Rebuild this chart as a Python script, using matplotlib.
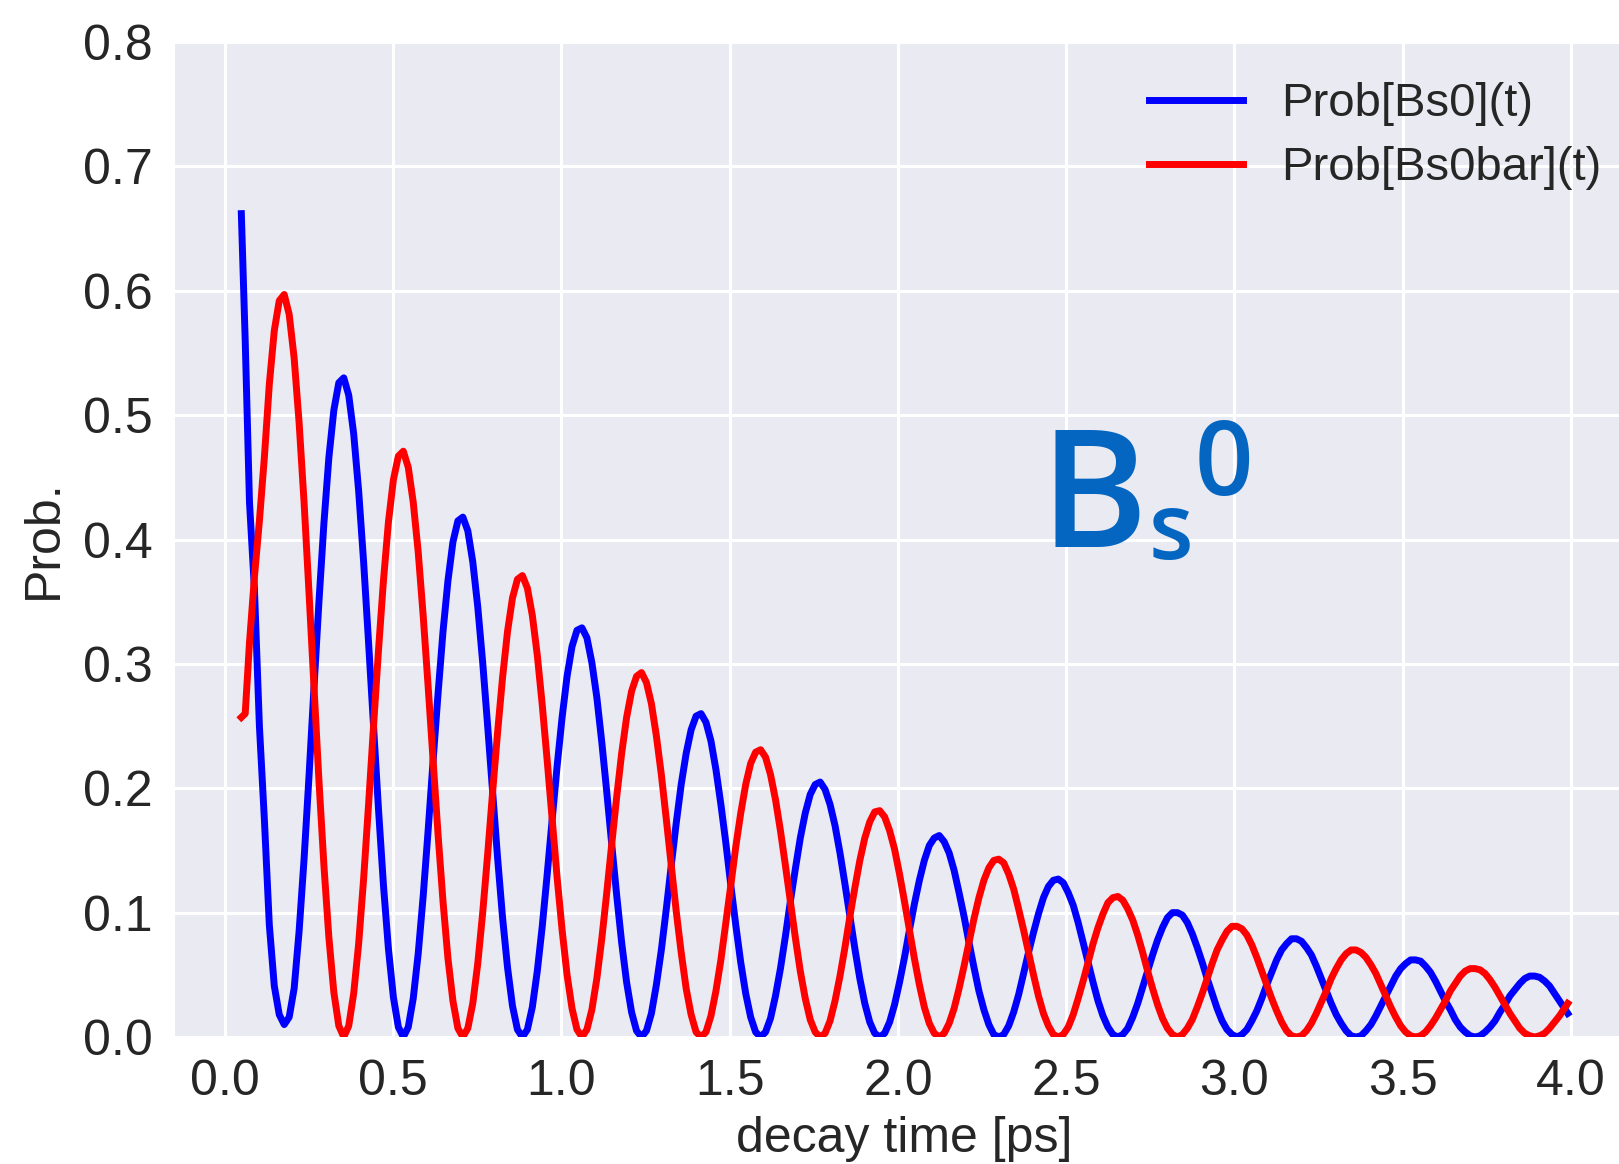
"""Probabilidad de oscilacion Bs0 / Bs0bar en funcion del tiempo de desintegracion."""
import numpy as np
import matplotlib

matplotlib.use("Agg")
import matplotlib.pyplot as plt
from matplotlib.ticker import MultipleLocator

# tiempos [ps]: dos puntos iniciales sueltos, luego una rejilla regular
# (paso = 1/24 del periodo de oscilacion) y el ultimo punto en 3.99 ps
start_times = [0.0495, 0.061]
grid_first, grid_last, grid_step = 5, 270, 0.0147417
end_times = [3.99]

# probabilidades, en unidades de 1e-3
prob_bs0_milli = [
    662, 560, 430, 360,
    250, 175, 90, 41, 18, 10, 16, 39, 85, 143,
    210, 281, 350, 413, 466, 504, 526, 530, 516, 485,
    439, 382, 317, 250, 183, 122, 71, 32, 8, 0,
    8, 31, 67, 113, 166, 222, 276, 326, 367, 398,
    415, 418, 407, 382, 346, 301, 250, 197, 144, 96,
    56, 25, 6, 0, 6, 24, 53, 89, 131, 175,
    218, 257, 290, 314, 327, 329, 321, 301, 273, 237,
    197, 155, 114, 76, 44, 20, 5, 0, 5, 19,
    42, 70, 103, 138, 172, 203, 228, 247, 258, 260,
    253, 238, 215, 187, 156, 122, 90, 60, 35, 16,
    4, 0, 4, 15, 33, 55, 81, 109, 135, 160,
    180, 195, 203, 205, 199, 187, 170, 148, 123, 97,
    71, 47, 27, 12, 3, 0, 3, 12, 26, 44,
    64, 86, 107, 126, 142, 154, 160, 162, 157, 148,
    134, 116, 97, 76, 56, 37, 22, 10, 2, 0,
    2, 9, 20, 34, 51, 68, 84, 99, 112, 121,
    126, 127, 124, 116, 106, 92, 76, 60, 44, 29,
    17, 8, 2, 0, 2, 7, 16, 27, 40, 53,
    66, 78, 88, 96, 100, 100, 98, 92, 83, 72,
    60, 47, 35, 23, 13, 6, 2, 0, 2, 6,
    13, 21, 31, 42, 52, 62, 70, 75, 79, 79,
    77, 72, 66, 57, 47, 37, 27, 18, 11, 5,
    1, 0, 1, 5, 10, 17, 25, 33, 41, 49,
    55, 59, 62, 62, 61, 57, 52, 45, 37, 29,
    22, 14, 8, 4, 1, 0, 1, 4, 8, 13,
    20, 26, 33, 38, 43, 47, 49, 49, 48, 45,
    41, 35, 29, 23, 19,
]
prob_bs0bar_milli = [
    257, 260, 317, 370,
    415, 466, 525, 568, 592, 597, 581, 546, 494, 430,
    357, 281, 206, 138, 80, 36, 9, 0, 9, 35,
    75, 127, 187, 250, 311, 367, 414, 448, 467, 471,
    458, 430, 390, 339, 282, 222, 163, 109, 63, 29,
    7, 0, 7, 27, 59, 100, 147, 197, 245, 289,
    326, 353, 368, 371, 361, 339, 307, 267, 222, 175,
    128, 86, 50, 23, 6, 0, 6, 22, 47, 79,
    116, 155, 193, 228, 257, 278, 290, 293, 285, 268,
    242, 211, 175, 138, 101, 68, 39, 18, 4, 0,
    4, 17, 37, 62, 92, 122, 153, 180, 203, 220,
    229, 231, 225, 211, 191, 166, 138, 109, 80, 53,
    31, 14, 4, 0, 3, 13, 29, 49, 72, 97,
    120, 142, 160, 173, 181, 182, 177, 166, 151, 131,
    109, 86, 63, 42, 24, 11, 3, 0, 3, 11,
    23, 39, 57, 76, 95, 112, 126, 136, 142, 143,
    140, 131, 119, 103, 86, 68, 50, 33, 19, 9,
    2, 0, 2, 8, 18, 31, 45, 60, 75, 88,
    99, 108, 112, 113, 110, 103, 94, 82, 68, 53,
    39, 26, 15, 7, 2, 0, 2, 7, 14, 24,
    35, 47, 59, 70, 78, 85, 89, 89, 87, 82,
    74, 64, 53, 42, 31, 21, 12, 5, 1, 0,
    1, 5, 11, 19, 28, 37, 47, 55, 62, 67,
    70, 70, 68, 64, 58, 51, 42, 33, 24, 16,
    9, 4, 1, 0, 1, 4, 9, 15, 22, 29,
    37, 43, 49, 53, 55, 55, 54, 51, 46, 40,
    33, 26, 19, 13, 7, 3, 1, 0, 1, 3,
    7, 12, 17, 23, 27,
]

TEXT = "#262626"
LABEL_BLUE = "#0566C2"


def build_times() -> np.ndarray:
    grid = np.arange(grid_first, grid_last + 1) * grid_step
    return np.concatenate([start_times, grid, end_times])


def main() -> None:
    decay_time = build_times()
    prob_bs0 = np.asarray(prob_bs0_milli) / 1000.0
    prob_bs0bar = np.asarray(prob_bs0bar_milli) / 1000.0

    plt.rcParams.update({
        "font.family": ["Liberation Sans", "DejaVu Sans"],
        "axes.facecolor": "#EAEAF2",
        "axes.edgecolor": "white",
        "grid.color": "white",
        "text.color": TEXT,
        "axes.labelcolor": TEXT,
        "xtick.color": TEXT,
        "ytick.color": TEXT,
    })

    fig = plt.figure(figsize=(16.19 / 2, 11.64 / 2), dpi=200)
    ax = fig.add_axes([0.1081, 0.1091, 0.9012, 0.8548])
    ax.plot(decay_time, prob_bs0, color="#0000FF", lw=2.5, label="Prob[Bs0](t)")
    ax.plot(decay_time, prob_bs0bar, color="#FF0000", lw=2.5, label="Prob[Bs0bar](t)")

    ax.set_ylim(0, 0.8)
    ax.xaxis.set_major_locator(MultipleLocator(0.5))
    ax.yaxis.set_major_locator(MultipleLocator(0.1))
    ax.grid(True, color="white", lw=1.1)
    ax.set_axisbelow(True)
    for spine in ax.spines.values():
        spine.set_visible(False)
    ax.tick_params(length=0, labelsize=18, pad=8)
    ax.set_xlabel("decay time [ps]", fontsize=18, labelpad=4)
    ax.set_ylabel("Prob.", fontsize=18, labelpad=6)
    ax.legend(loc="upper right", bbox_to_anchor=(1.005, 1.0), fontsize=17,
              frameon=False, handlelength=2.0, labelspacing=0.43,
              borderaxespad=0.45)

    # etiqueta Bs^0: B grande, s abajo, 0 arriba, uno tras otro
    kw = dict(color=LABEL_BLUE, family="Open Sans", weight="semibold", va="baseline")
    t_b = ax.text(2.42, 0.394, "B", fontsize=59, **kw)
    fig.canvas.draw()
    renderer = fig.canvas.get_renderer()
    inv = ax.transData.inverted()
    x_s = inv.transform((t_b.get_window_extent(renderer).x1 + 1, 0))[0]
    t_s = ax.text(x_s, 0.384, "s", fontsize=33, **kw)
    x_0 = inv.transform((t_s.get_window_extent(renderer).x1 + 1, 0))[0]
    ax.text(x_0, 0.436, "0", fontsize=37, **kw)

    fig.savefig("out.png", dpi=200)
    plt.close(fig)


if __name__ == "__main__":
    main()
